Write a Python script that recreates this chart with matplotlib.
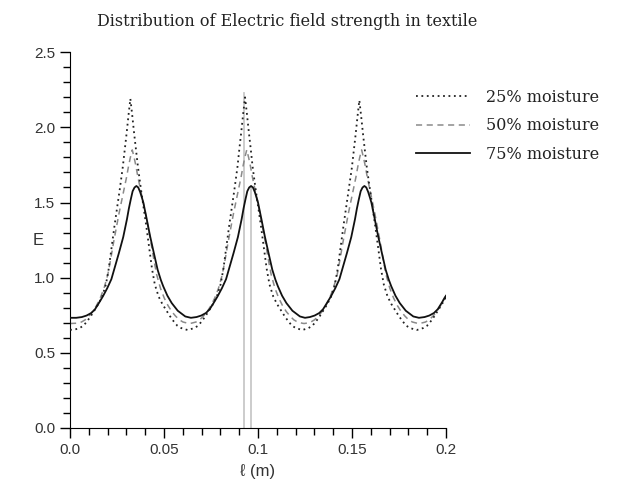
import matplotlib
matplotlib.use("Agg")
import matplotlib.pyplot as plt
from matplotlib.ticker import MultipleLocator, FixedLocator

# 25% moisture (dotted)
x_25 = [0.0, 0.0026, 0.0051, 0.0071, 0.0091, 0.0111, 0.0131, 0.0151, 0.0171, 0.0191,
        0.0206, 0.0221, 0.0236, 0.0251, 0.0266, 0.0281, 0.0291, 0.0301, 0.0311, 0.0321,
        0.0331, 0.0341, 0.0351, 0.0361, 0.0376, 0.0391, 0.0406, 0.0421, 0.0436, 0.0451,
        0.0471, 0.0491, 0.0511, 0.0531, 0.0551, 0.0571, 0.0591, 0.0616, 0.0626,
        0.0636, 0.0661, 0.0681, 0.0701, 0.0721, 0.0741, 0.0761, 0.0781, 0.0801, 0.0816,
        0.0831, 0.0846, 0.0861, 0.0876, 0.0891, 0.0901, 0.0911, 0.0921, 0.0931,
        0.0941, 0.0951, 0.0961, 0.0971, 0.0986, 0.1001, 0.1016, 0.1031, 0.1046, 0.1061,
        0.1081, 0.1101, 0.1121, 0.1141, 0.1161, 0.1181, 0.1201, 0.1226, 0.1235,
        0.1244, 0.1269, 0.1289, 0.1309, 0.1329, 0.1349, 0.1369, 0.1389, 0.1409, 0.1424,
        0.1439, 0.1454, 0.1469, 0.1484, 0.1499, 0.1509, 0.1519, 0.1529, 0.1539,
        0.1549, 0.1559, 0.1569, 0.1579, 0.1594, 0.1609, 0.1624, 0.1639, 0.1654, 0.1669,
        0.1689, 0.1709, 0.1729, 0.1749, 0.1769, 0.1789, 0.1809, 0.1834, 0.1844,
        0.1854, 0.1879, 0.1899, 0.1919, 0.1939, 0.1959, 0.1979, 0.2]
e_25 = [0.653, 0.655, 0.665, 0.68, 0.71, 0.745, 0.785, 0.825, 0.875, 0.955,
        1.06, 1.20, 1.34, 1.47, 1.60, 1.74, 1.85, 1.96, 2.08, 2.19,
        2.08, 1.96, 1.85, 1.74, 1.60, 1.47, 1.34, 1.20, 1.06, 0.955,
        0.875, 0.825, 0.785, 0.745, 0.71, 0.68, 0.665, 0.655, 0.652,
        0.655, 0.665, 0.68, 0.71, 0.745, 0.785, 0.825, 0.875, 0.955, 1.06,
        1.20, 1.34, 1.47, 1.60, 1.74, 1.86, 1.97, 2.09, 2.20,
        2.09, 1.97, 1.86, 1.74, 1.60, 1.47, 1.34, 1.20, 1.06, 0.955,
        0.875, 0.825, 0.785, 0.745, 0.71, 0.68, 0.665, 0.655, 0.652,
        0.655, 0.665, 0.68, 0.71, 0.745, 0.785, 0.825, 0.875, 0.955, 1.06,
        1.20, 1.34, 1.47, 1.60, 1.73, 1.84, 1.95, 2.07, 2.18,
        2.07, 1.95, 1.84, 1.73, 1.60, 1.47, 1.34, 1.20, 1.06, 0.955,
        0.875, 0.825, 0.785, 0.745, 0.71, 0.68, 0.665, 0.655, 0.652,
        0.655, 0.665, 0.68, 0.71, 0.745, 0.785, 0.825, 0.87]

# 50% moisture (dashed)
x_50 = [0.0, 0.0036, 0.0061, 0.0081, 0.0101, 0.0121, 0.0141, 0.0161, 0.0181, 0.0201,
        0.0216, 0.0231, 0.0246, 0.0261, 0.0276, 0.0291, 0.0301, 0.0311, 0.0321, 0.0331,
        0.0341, 0.0351, 0.0361, 0.0371, 0.0386, 0.0401, 0.0416, 0.0431, 0.0446, 0.0461,
        0.0481, 0.0501, 0.0521, 0.0541, 0.0561, 0.0581, 0.0601, 0.0626, 0.0636,
        0.0645, 0.0670, 0.0690, 0.0710, 0.0730, 0.0750, 0.0770, 0.0790, 0.0810, 0.0825,
        0.0840, 0.0855, 0.0870, 0.0885, 0.0900, 0.0910, 0.0920, 0.0930, 0.0940,
        0.0950, 0.0960, 0.0970, 0.0980, 0.0995, 0.1010, 0.1025, 0.1040, 0.1055, 0.1070,
        0.1090, 0.1110, 0.1130, 0.1150, 0.1170, 0.1190, 0.1210, 0.1235, 0.1245,
        0.1256, 0.1281, 0.1301, 0.1321, 0.1341, 0.1361, 0.1381, 0.1401, 0.1421, 0.1436,
        0.1451, 0.1466, 0.1481, 0.1496, 0.1511, 0.1521, 0.1531, 0.1541, 0.1551,
        0.1561, 0.1571, 0.1581, 0.1591, 0.1606, 0.1621, 0.1636, 0.1651, 0.1666, 0.1681,
        0.1701, 0.1721, 0.1741, 0.1761, 0.1781, 0.1801, 0.1821, 0.1846, 0.1856,
        0.1866, 0.1891, 0.1911, 0.1931, 0.1951, 0.1971, 0.1991, 0.2]
e_50 = [0.695, 0.697, 0.705, 0.72, 0.745, 0.775, 0.815, 0.865, 0.93, 1.02,
        1.12, 1.23, 1.33, 1.43, 1.52, 1.61, 1.67, 1.74, 1.80, 1.85,
        1.80, 1.74, 1.67, 1.61, 1.52, 1.43, 1.33, 1.23, 1.12, 1.02,
        0.93, 0.865, 0.815, 0.775, 0.745, 0.72, 0.705, 0.697, 0.695,
        0.697, 0.705, 0.72, 0.745, 0.775, 0.815, 0.865, 0.93, 1.02, 1.12,
        1.23, 1.33, 1.43, 1.52, 1.61, 1.67, 1.74, 1.80, 1.85,
        1.80, 1.74, 1.67, 1.61, 1.52, 1.43, 1.33, 1.23, 1.12, 1.02,
        0.93, 0.865, 0.815, 0.775, 0.745, 0.72, 0.705, 0.697, 0.695,
        0.697, 0.705, 0.72, 0.745, 0.775, 0.815, 0.865, 0.93, 1.02, 1.12,
        1.23, 1.33, 1.43, 1.52, 1.61, 1.67, 1.74, 1.80, 1.85,
        1.80, 1.74, 1.67, 1.61, 1.52, 1.43, 1.33, 1.23, 1.12, 1.02,
        0.93, 0.865, 0.815, 0.775, 0.745, 0.72, 0.705, 0.697, 0.695,
        0.697, 0.705, 0.72, 0.745, 0.775, 0.815, 0.865, 0.88]

# 75% moisture (solid)
x_75 = [0.0, 0.0033, 0.0063, 0.0088, 0.0113, 0.0133, 0.0153, 0.0175, 0.0198, 0.0220,
        0.0243, 0.0260, 0.0283, 0.0303, 0.0313, 0.0323, 0.0333, 0.0343, 0.0353,
        0.0363, 0.0373, 0.0383, 0.0390, 0.0408, 0.0426, 0.0443, 0.0466, 0.0483, 0.0496,
        0.0518, 0.0541, 0.0573, 0.0613, 0.0643,
        0.0673, 0.0698, 0.0723, 0.0743, 0.0763, 0.0785, 0.0808, 0.0830, 0.0853, 0.0870,
        0.0893, 0.0913, 0.0923, 0.0933, 0.0943, 0.0953, 0.0963,
        0.0973, 0.0983, 0.0993, 0.1000, 0.1018, 0.1036, 0.1053, 0.1076, 0.1093, 0.1106,
        0.1128, 0.1151, 0.1183, 0.1223, 0.1250,
        0.1276, 0.1301, 0.1326, 0.1346, 0.1366, 0.1388, 0.1411, 0.1433, 0.1456, 0.1473,
        0.1496, 0.1516, 0.1526, 0.1536, 0.1546, 0.1556, 0.1566,
        0.1576, 0.1586, 0.1596, 0.1603, 0.1621, 0.1639, 0.1656, 0.1679, 0.1696, 0.1709,
        0.1731, 0.1754, 0.1786, 0.1826, 0.1856,
        0.1886, 0.1911, 0.1936, 0.1956, 0.1976, 0.1998, 0.2]
e_75 = [0.733, 0.733, 0.738, 0.748, 0.765, 0.79, 0.83, 0.876, 0.93, 0.99,
        1.09, 1.164, 1.27, 1.39, 1.46, 1.52, 1.575, 1.60, 1.61,
        1.60, 1.57, 1.53, 1.50, 1.39, 1.276, 1.18, 1.053, 0.985, 0.942,
        0.88, 0.831, 0.78, 0.742, 0.733,
        0.738, 0.748, 0.765, 0.79, 0.83, 0.876, 0.93, 0.99, 1.09, 1.164,
        1.27, 1.39, 1.46, 1.52, 1.575, 1.60, 1.61,
        1.60, 1.57, 1.53, 1.50, 1.39, 1.276, 1.18, 1.053, 0.985, 0.942,
        0.88, 0.831, 0.78, 0.742, 0.733,
        0.738, 0.748, 0.765, 0.79, 0.83, 0.876, 0.93, 0.99, 1.09, 1.164,
        1.27, 1.39, 1.46, 1.52, 1.575, 1.60, 1.61,
        1.60, 1.57, 1.53, 1.50, 1.39, 1.276, 1.18, 1.053, 0.985, 0.942,
        0.88, 0.831, 0.78, 0.742, 0.733,
        0.738, 0.748, 0.765, 0.79, 0.83, 0.876, 0.88]

# grey vertical marker lines (x position, top value)
marker_x = [0.0927, 0.0963]
marker_top = [2.23, 1.60]

labels = ["25% moisture", "50% moisture", "75% moisture"]
x_ticks = [0.0, 0.05, 0.1, 0.15, 0.2]
x_ticklabels = ["0.0", "0.05", "0.1", "0.15", "0.2"]
y_ticks = [0.0, 0.5, 1.0, 1.5, 2.0, 2.5]
y_ticklabels = ["0.0", "0.5", "1.0", "1.5", "2.0", "2.5"]

sans = ["Liberation Sans", "DejaVu Sans"]
serif = ["DejaVu Serif"]

fig = plt.figure(figsize=(6.18, 4.88), dpi=100)
ax = fig.add_axes([0.1133, 0.123, 0.6084, 0.770])

for mx, mt in zip(marker_x, marker_top):
    ax.plot([mx, mx], [0, mt], color="#c8c8c8", lw=1.3, zorder=1)

ax.plot(x_25, e_25, color="#222222", lw=1.3, linestyle=(0, (1, 2)), label=labels[0], zorder=3)
ax.plot(x_50, e_50, color="#8a8a8a", lw=1.1, linestyle=(0, (4, 3)), label=labels[1], zorder=2)
ax.plot(x_75, e_75, color="#111111", lw=1.3, label=labels[2], zorder=4)

ax.set_xlim(0, 0.2)
ax.set_ylim(0, 2.5)
ax.xaxis.set_major_locator(FixedLocator(x_ticks))
ax.set_xticklabels(x_ticklabels, family=sans, fontsize=11, color="#333333")
ax.yaxis.set_major_locator(FixedLocator(y_ticks))
ax.set_yticklabels(y_ticklabels, family=sans, fontsize=11, color="#333333")
ax.xaxis.set_minor_locator(MultipleLocator(0.01))
ax.yaxis.set_minor_locator(MultipleLocator(0.1))
ax.tick_params(which="major", direction="out", length=7, width=1)
ax.tick_params(which="minor", direction="out", length=5, width=1)

for side in ["top", "right"]:
    ax.spines[side].set_visible(False)

ax.set_xlabel("\u2113 (m)", family=sans, fontsize=12, color="#333333", labelpad=5)
ax.set_ylabel("E", family=sans, fontsize=12, color="#333333", rotation=0)
ax.yaxis.set_label_coords(-0.085, 0.48)

fig.text(0.464, 0.955, "Distribution of Electric field strength in textile",
         family=serif, fontsize=11.5, ha="center", va="center", color="#222222")

leg = fig.legend(loc="upper left", bbox_to_anchor=(0.673, 0.818),
                 bbox_transform=fig.transFigure, frameon=False,
                 borderaxespad=0, borderpad=0,
                 prop={"family": serif, "size": 11.5}, handlelength=3.4,
                 handletextpad=1.0, labelspacing=0.72)
for t in leg.get_texts():
    t.set_color("#222222")

fig.savefig("out.png", dpi=100)
